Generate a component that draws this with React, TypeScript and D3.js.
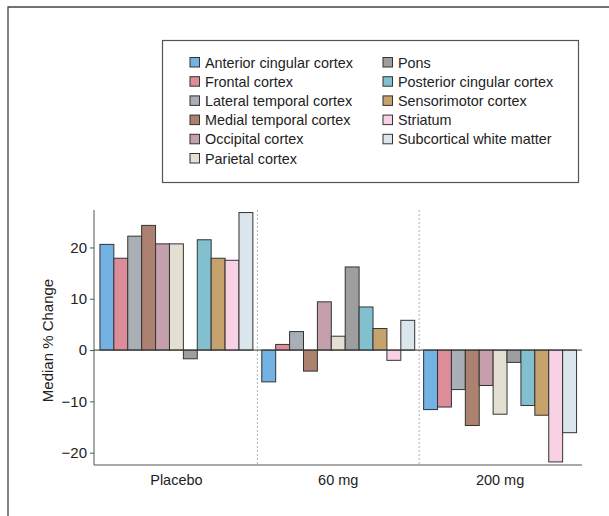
import React, { useEffect, useRef } from 'react';
import * as d3 from 'd3';

const groups = ['Placebo', '60 mg', '200 mg'];
const regions = [
  'Anterior cingular cortex',
  'Frontal cortex',
  'Lateral temporal cortex',
  'Medial temporal cortex',
  'Occipital cortex',
  'Parietal cortex',
  'Pons',
  'Posterior cingular cortex',
  'Sensorimotor cortex',
  'Striatum',
  'Subcortical white matter',
];
const colors = [
  '#72b3e3', '#dd8c9a', '#a8afb6', '#ac8170', '#c59fab', '#e3dfd2',
  '#9e9e9f', '#82c0d0', '#c6a36c', '#f8d2e4', '#dbe5ec',
];
// median % change, one array per dose, in region order
const placebo = [20.6, 17.9, 22.2, 24.3, 20.7, 20.7, -1.7, 21.5, 17.9, 17.5, 26.8];
const mg60 = [-6.2, 1.1, 3.6, -4.1, 9.4, 2.7, 16.2, 8.4, 4.2, -2.0, 5.8];
const mg200 = [-11.6, -11.1, -7.7, -14.7, -6.9, -12.5, -2.4, -10.8, -12.7, -21.8, -16.1];
const yTicks = [-20, -10, 0, 10, 20];

const FONT = "'Liberation Sans', Arial, sans-serif";

const App = () => {
  const ref = useRef<SVGSVGElement>(null);

  useEffect(() => {
    if (!ref.current) return;
    const svg = d3.select(ref.current);
    svg.selectAll('*').remove();

    const left = 94, right = 582, top = 210, bottom = 465;
    const series = [placebo, mg60, mg200];

    // outer frame
    svg.append('path')
      .attr('d', 'M8,520 L8,7 L615,7')
      .attr('fill', 'none')
      .attr('stroke', '#444')
      .attr('stroke-width', 1.3);

    const y = d3.scaleLinear().domain([-22.4, 27.3]).range([bottom, top]);
    const x0 = d3.scaleBand().domain(groups).range([95.5, 581]).padding(0);
    const x1 = d3.scaleBand().domain(regions).range([0, x0.bandwidth()])
      .paddingInner(0).paddingOuter(0.32);
    const color = d3.scaleOrdinal<string, string>().domain(regions).range(colors);

    // group separators
    groups.slice(1).forEach((g) => {
      svg.append('line')
        .attr('x1', x0(g)!).attr('x2', x0(g)!)
        .attr('y1', top).attr('y2', bottom)
        .attr('stroke', '#9fb6c0')
        .attr('stroke-dasharray', '2,2');
    });

    // bars
    groups.forEach((g, gi) => {
      svg.append('g')
        .attr('transform', `translate(${x0(g)},0)`)
        .selectAll('rect')
        .data(regions.map((r, ri) => ({ r, v: series[gi][ri] })))
        .join('rect')
        .attr('x', (d) => x1(d.r)!)
        .attr('width', x1.bandwidth())
        .attr('y', (d) => Math.min(y(d.v), y(0)))
        .attr('height', (d) => Math.abs(y(d.v) - y(0)))
        .attr('fill', (d) => color(d.r))
        .attr('stroke', '#333')
        .attr('stroke-width', 1);
    });

    // zero line
    svg.append('line')
      .attr('x1', left).attr('x2', right)
      .attr('y1', y(0)).attr('y2', y(0))
      .attr('stroke', '#333').attr('stroke-width', 1);

    // y axis
    const yAxis = svg.append('g')
      .attr('transform', `translate(${left},0)`)
      .call(d3.axisLeft(y).tickValues(yTicks).tickSize(4).tickSizeOuter(0).tickPadding(3));
    yAxis.select('.domain').attr('stroke', '#555').attr('d', `M0,${top}V${bottom}`);
    yAxis.selectAll('.tick line').attr('stroke', '#555');
    yAxis.selectAll('.tick text')
      .attr('font-family', FONT).attr('font-size', 15).attr('fill', '#222');

    // bottom axis
    const xAxis = svg.append('g')
      .attr('transform', `translate(0,${bottom})`)
      .call(d3.axisBottom(x0).tickSize(0).tickPadding(10));
    xAxis.select('.domain').attr('stroke', '#555').attr('d', `M${left},0H${right}`);
    xAxis.selectAll('.tick text')
      .attr('font-family', FONT).attr('font-size', 14.5).attr('fill', '#222');

    // y label
    svg.append('text')
      .attr('transform', `translate(53,${(top + bottom) / 2 + 3}) rotate(-90)`)
      .attr('text-anchor', 'middle')
      .attr('font-family', FONT)
      .attr('font-size', 15)
      .attr('fill', '#222')
      .text('Median % Change');

    // legend
    svg.append('rect')
      .attr('x', 162.5).attr('y', 40.5)
      .attr('width', 416).attr('height', 142)
      .attr('fill', 'white')
      .attr('stroke', '#555')
      .attr('stroke-width', 1.2);

    const leg = svg.append('g').selectAll('g')
      .data(regions)
      .join('g')
      .attr('transform', (d, i) => {
        const col = i < 6 ? 0 : 1;
        const row = i < 6 ? i : i - 6;
        return `translate(${col === 0 ? 190 : 383},${57.5 + row * 19.2})`;
      });
    leg.append('rect')
      .attr('width', 9.5).attr('height', 9.5)
      .attr('fill', (d) => color(d))
      .attr('stroke', '#333');
    leg.append('text')
      .attr('x', 15).attr('y', 10)
      .attr('font-family', FONT)
      .attr('font-size', 14.4)
      .attr('fill', '#222')
      .text((d) => d);
  }, []);

  return (
    <svg
      ref={ref}
      width={609}
      height={516}
      style={{ position: 'absolute', left: 0, top: 0, background: 'white' }}
    />
  );
};

export default App;
